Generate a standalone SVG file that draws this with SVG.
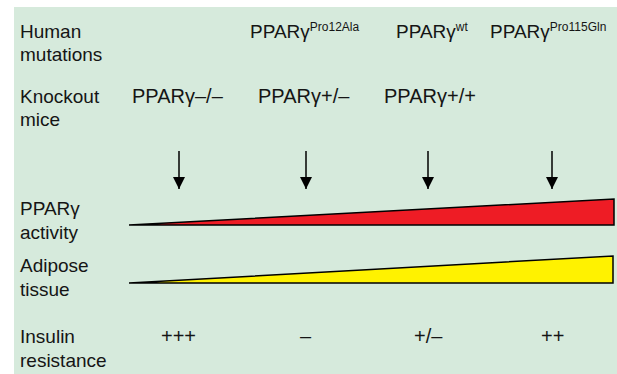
<svg xmlns="http://www.w3.org/2000/svg" width="617" height="374" viewBox="0 0 617 374">
<style>
text{font-family:"Liberation Sans",Arial,sans-serif;fill:#151515}
.lab{font-size:19px}
.g{font-size:19px}
.k{font-size:20px}
.sup{font-size:12px}
.tri{stroke:#000;stroke-width:1.5;stroke-linejoin:miter}
.arr{stroke:#000;stroke-width:1.5}
</style>
<defs>
<marker id="ah" viewBox="0 0 12 12" refX="12" refY="6" markerWidth="12" markerHeight="12" markerUnits="userSpaceOnUse" orient="auto">
<path d="M0,0 L12,6 L0,12 Z" fill="#000"/>
</marker>
</defs>
<rect x="14" y="7" width="603" height="367" fill="#d6eadc"/>
<g id="row-labels">
<text class="lab" x="20" y="38">Human</text>
<text class="lab" x="20" y="61">mutations</text>
<text class="lab" x="20" y="103">Knockout</text>
<text class="lab" x="20" y="126">mice</text>
<text class="lab" x="20" y="215">PPARγ</text>
<text class="lab" x="20" y="239">activity</text>
<text class="lab" x="20" y="272">Adipose</text>
<text class="lab" x="20" y="296">tissue</text>
<text class="lab" x="20" y="343">Insulin</text>
<text class="lab" x="20" y="367">resistance</text>
</g>
<g id="human-mutations">
<text class="g" x="250" y="38">PPARγ<tspan class="sup" dy="-7">Pro12Ala</tspan></text>
<text class="g" x="396" y="38">PPARγ<tspan class="sup" dy="-7">wt</tspan></text>
<text class="g" x="490" y="38">PPARγ<tspan class="sup" dy="-7">Pro115Gln</tspan></text>
</g>
<g id="knockout-mice">
<text class="k" x="132" y="103">PPARγ–/–</text>
<text class="k" x="258" y="103">PPARγ+/–</text>
<text class="k" x="384" y="103">PPARγ+/+</text>
</g>
<g id="connectors">
<line class="arr" x1="179" y1="151" x2="179" y2="189" marker-end="url(#ah)"/>
<line class="arr" x1="306" y1="151" x2="306" y2="189" marker-end="url(#ah)"/>
<line class="arr" x1="428" y1="151" x2="428" y2="189" marker-end="url(#ah)"/>
<line class="arr" x1="552" y1="151" x2="552" y2="189" marker-end="url(#ah)"/>
</g>
<g id="pparg-activity">
<polygon class="tri" points="129,225 614,199 614,225" fill="#ee1c25"/>
</g>
<g id="adipose-tissue">
<polygon class="tri" points="129,283 613,256 613,283" fill="#fff200"/>
</g>
<g id="insulin-resistance">
<text class="k" x="161" y="343">+++</text>
<text class="k" x="300" y="343">–</text>
<text class="k" x="414" y="343">+/–</text>
<text class="k" x="541" y="343">++</text>
</g>
</svg>
